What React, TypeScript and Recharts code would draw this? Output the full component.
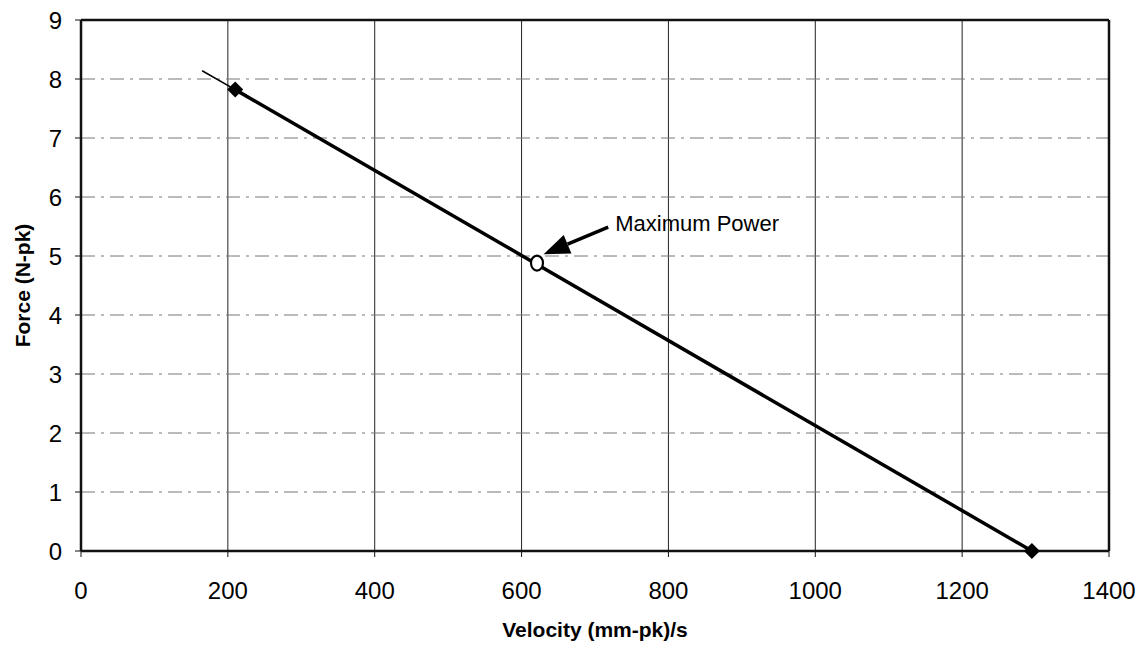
import { ComposedChart, Scatter, XAxis, YAxis, CartesianGrid, ReferenceLine } from "recharts";

// measured points (velocity in (mm-pk)/s, force in N-pk)
const velocity = [210, 1295];
const force = [7.82, 0];

// thin extension of the load line past the first point
const trendVelocity = [165, 210];
const trendForce = [8.14, 7.82];

const maxPowerVelocity = [621];
const maxPowerForce = [4.88];

// annotation arrow: from the label towards the max power point
const arrowFrom = { x: 718, y: 5.49 };
const arrowTo = { x: 630, y: 5.03 };
const annotationText = "Maximum Power";

const xTicks = [0, 200, 400, 600, 800, 1000, 1200, 1400];
const yTicks = [0, 1, 2, 3, 4, 5, 6, 7, 8, 9];

const toPoints = (xs: number[], ys: number[]) => xs.map((x, i) => ({ x, y: ys[i] }));

const lineData = toPoints(velocity, force);
const trendData = toPoints(trendVelocity, trendForce);
const maxPowerData = toPoints(maxPowerVelocity, maxPowerForce);

const font = "'Liberation Sans', Arial, sans-serif";

const Diamond = (props: any) => {
  const { cx, cy } = props;
  const s = 8;
  return <polygon points={`${cx},${cy - s} ${cx + s},${cy} ${cx},${cy + s} ${cx - s},${cy}`} fill="#000" />;
};

const OpenCircle = (props: any) => {
  const { cx, cy } = props;
  return <ellipse cx={cx} cy={cy} rx={6} ry={7.5} fill="#fff" stroke="#000" strokeWidth={2.2} />;
};

const NoShape = () => <g />;

const Arrow = (props: any) => {
  const { x1, y1, x2, y2 } = props;
  const dx = x2 - x1;
  const dy = y2 - y1;
  const len = Math.sqrt(dx * dx + dy * dy) || 1;
  const ux = dx / len;
  const uy = dy / len;
  const head = 26;
  const half = 10;
  const bx = x2 - ux * head;
  const by = y2 - uy * head;
  return (
    <g>
      <line x1={x1} y1={y1} x2={bx} y2={by} stroke="#000" strokeWidth={3.5} />
      <polygon
        points={`${x2},${y2} ${bx - uy * half},${by + ux * half} ${bx + uy * half},${by - ux * half}`}
        fill="#000"
      />
      <text x={x1 + 7} y={y1 + 4} fontSize={22} fontFamily={font} fill="#000">
        {annotationText}
      </text>
    </g>
  );
};

const YTitle = (props: any) => {
  const { viewBox } = props;
  const cx = 22;
  const cy = viewBox.y + viewBox.height / 2;
  return (
    <text
      x={cx}
      y={cy}
      transform={`rotate(-90 ${cx} ${cy})`}
      textAnchor="middle"
      dominantBaseline="central"
      fontSize={21}
      fontWeight="bold"
      fontFamily={font}
      fill="#000"
    >
      Force (N-pk)
    </text>
  );
};

export default function App() {
  return (
    <div style={{ position: "absolute", left: 0, top: 0, background: "#fff" }}>
      <ComposedChart width={1144} height={649} margin={{ top: 20, right: 35, bottom: 0, left: 21 }}>
        <CartesianGrid horizontal={false} stroke="#222" strokeWidth={1} />
        <CartesianGrid vertical={false} stroke="#777" strokeWidth={1} strokeDasharray="14 6 3 6" />
        <XAxis
          type="number"
          dataKey="x"
          domain={[0, 1400]}
          ticks={xTicks}
          height={98}
          tickSize={6}
          tickMargin={25}
          axisLine={{ stroke: "#111", strokeWidth: 2.5 }}
          tickLine={{ stroke: "#111" }}
          tick={{ fontSize: 24, fill: "#000", fontFamily: font }}
          label={{
            value: "Velocity (mm-pk)/s",
            position: "insideBottom",
            offset: 12,
            fontSize: 21,
            fontWeight: "bold",
            fontFamily: font,
            fill: "#000",
          }}
        />
        <YAxis
          type="number"
          dataKey="y"
          domain={[0, 9]}
          ticks={yTicks}
          width={60}
          tickSize={6}
          tickMargin={13}
          axisLine={{ stroke: "#111", strokeWidth: 2.5 }}
          tickLine={{ stroke: "#111" }}
          tick={{ fontSize: 24, fill: "#000", fontFamily: font }}
          label={<YTitle />}
        />
        <ReferenceLine y={9} stroke="#111" strokeWidth={2.5} />
        <ReferenceLine x={1400} stroke="#111" strokeWidth={2.5} />
        <Scatter
          data={trendData}
          line={{ stroke: "#000", strokeWidth: 1.5 }}
          shape={<NoShape />}
          isAnimationActive={false}
        />
        <Scatter
          data={lineData}
          line={{ stroke: "#000", strokeWidth: 3.5 }}
          shape={<Diamond />}
          isAnimationActive={false}
        />
        <Scatter data={maxPowerData} shape={<OpenCircle />} isAnimationActive={false} />
        <ReferenceLine segment={[arrowFrom, arrowTo]} shape={<Arrow />} />
      </ComposedChart>
    </div>
  );
}
